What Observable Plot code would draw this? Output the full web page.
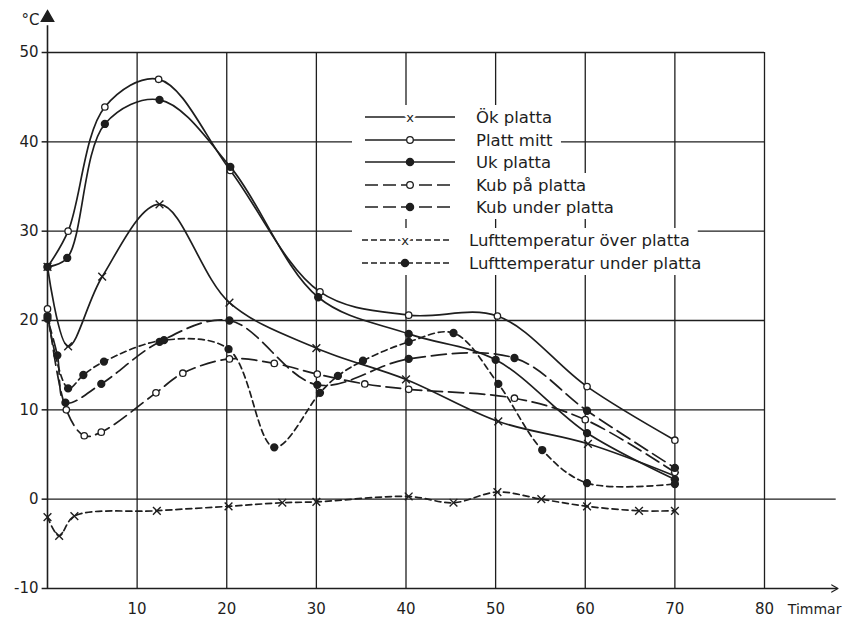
<!DOCTYPE html>
<html><head><meta charset="utf-8">
<script src="https://cdn.jsdelivr.net/npm/d3@7"></script>
<script src="https://cdn.jsdelivr.net/npm/@observablehq/plot@0.6"></script>
<style>
html,body{margin:0;padding:0;background:#fff;}
#chart{position:relative;width:851px;height:623px;}
svg{font-family:"DejaVu Sans",sans-serif;}
</style></head><body><div id="chart"></div>
<script>
// ---- data (hours, °C) ----
const okH = [0, 2.3, 6.1, 12.5, 20.3, 30, 40, 50.3, 60.3, 70];
const okV = [26, 17.1, 24.9, 33, 22, 16.9, 13.4, 8.7, 6.2, 2.6];

const plattH = [0, 2.3, 6.4, 12.4, 20.4, 30.4, 40.3, 50.2, 60.2, 70];
const plattV = [26, 30, 43.9, 47, 36.8, 23.2, 20.6, 20.5, 12.6, 6.6];

const ukH = [0, 2.2, 6.4, 12.5, 20.4, 30.2, 40.3, 50, 60.2, 70];
const ukV = [26, 27, 42, 44.7, 37.2, 22.6, 18.5, 15.6, 7.4, 2.2];

const kubPaH = [0, 2.1, 4.1, 6, 12.1, 15.1, 20.3, 25.3, 30.1, 35.4, 40.3, 52.1, 60, 70];
const kubPaV = [21.3, 10, 7.1, 7.5, 11.9, 14.1, 15.7, 15.2, 14.0, 12.9, 12.3, 11.3, 8.9, 3.0];

const kubUnderH = [0, 1.1, 2, 6, 12.5, 20.3, 30.1, 40.3, 52.1, 60.2, 70];
const kubUnderV = [20.2, 16.1, 10.8, 12.9, 17.6, 20, 12.8, 15.7, 15.8, 9.9, 3.5];

const luftOverH = [0, 1.3, 3, 12.2, 20.2, 26.2, 30, 40.3, 45.3, 50.2, 55.1, 60.2, 66, 70];
const luftOverV = [-2, -4.1, -1.9, -1.3, -0.8, -0.4, -0.3, 0.3, -0.4, 0.8, 0, -0.8, -1.3, -1.3];

const luftUnderH = [0, 2.3, 4, 6.3, 13, 20.2, 25.3, 30.4, 32.4, 35.2, 40.3, 45.3, 50.3, 55.2, 60.2, 70];
const luftUnderV = [20.5, 12.4, 13.9, 15.4, 17.8, 16.8, 5.8, 11.9, 13.8, 15.5, 17.6, 18.6, 12.9, 5.5, 1.8, 1.7];

const xTicks = [10, 20, 30, 40, 50, 60, 70, 80];
const yTicks = [-10, 0, 10, 20, 30, 40, 50];
const xLabel = "Timmar";
const yLabel = "°C";

const ink = "#1e1e1e";
const series = [
  {name: "Ök platta", h: okH, v: okV, dash: null, marker: "x"},
  {name: "Platt mitt", h: plattH, v: plattV, dash: null, marker: "open"},
  {name: "Uk platta", h: ukH, v: ukV, dash: null, marker: "filled"},
  {name: "Kub på platta", h: kubPaH, v: kubPaV, dash: "15,6", marker: "open"},
  {name: "Kub under platta", h: kubUnderH, v: kubUnderV, dash: "15,6", marker: "filled"},
  {name: "Lufttemperatur över platta", h: luftOverH, v: luftOverV, dash: "6,4", marker: "x"},
  {name: "Lufttemperatur under platta", h: luftUnderH, v: luftUnderV, dash: "6,4", marker: "filled"}
];
const rowsOf = s => s.h.map((h, i) => ({series: s.name, h, v: s.v[i]}));

const marks = [
  // grid
  Plot.ruleX(xTicks, {y1: -10, y2: 50, stroke: ink, strokeWidth: 1.3}),
  Plot.ruleY([10, 20, 30, 40, 50], {x1: 0, x2: 80, stroke: ink, strokeWidth: 1.3}),
  Plot.ruleY([0], {x1: 0, x2: 88, stroke: ink, strokeWidth: 1.3}),
  // axes
  Plot.ruleY([-10], {x1: 0, x2: 88, stroke: ink, strokeWidth: 1.5}),
  Plot.ruleX([0], {y1: -10, y2: 53, stroke: ink, strokeWidth: 1.6}),
  Plot.dot([0], {x: 0, y: 53.9, symbol: "triangle", r: 4.5, fill: ink, stroke: ink}),
  Plot.arrow([0], {x1: 85.8, x2: 88.2, y1: -10, y2: -10, stroke: ink, strokeWidth: 1.2, headLength: 9}),
  Plot.ruleY(yTicks, {x1: -0.6, x2: 0, stroke: ink, strokeWidth: 1.5}),
  Plot.text(yTicks, {x: 0, y: d => d, text: d => String(d), dx: -9, textAnchor: "end", fontSize: 15, fill: ink}),
  Plot.text(xTicks, {x: d => d, y: -10, text: d => String(d), dy: 21, fontSize: 15, fill: ink}),
  Plot.text([xLabel], {x: 82.6, y: -10, text: d => d, dy: 21, textAnchor: "start", fontSize: 14, fill: ink}),
  Plot.text([yLabel], {x: 0, y: 53.6, text: d => d, dx: -8, textAnchor: "end", fontSize: 15, fill: ink})
];

for (const s of series) {
  const data = rowsOf(s);
  marks.push(Plot.line(data, {x: "h", y: "v", curve: "catmull-rom", stroke: ink, strokeWidth: 1.7, strokeDasharray: s.dash}));
  if (s.marker === "x") marks.push(Plot.dot(data, {x: "h", y: "v", symbol: "times", r: 3.6, stroke: ink, strokeWidth: 1.4}));
  else if (s.marker === "open") marks.push(Plot.dot(data, {x: "h", y: "v", r: 3.2, fill: "white", stroke: ink, strokeWidth: 1.3}));
  else marks.push(Plot.dot(data, {x: "h", y: "v", r: 3.4, fill: ink, stroke: ink}));
}

const plot = Plot.plot({
  width: 851, height: 623,
  marginLeft: 47, marginRight: 87, marginTop: 52, marginBottom: 35,
  x: {domain: [0, 80], axis: null},
  y: {domain: [-10, 50], axis: null},
  style: {background: "white", overflow: "visible"},
  marks
});
document.getElementById("chart").appendChild(plot);

// ---- in-plot legend (white panel over the grid) ----
const svg = d3.select(plot);
const legendRows = [
  {y: 117, textX: 476},
  {y: 140, textX: 476},
  {y: 162, textX: 476},
  {y: 185, textX: 476},
  {y: 207, textX: 476},
  {y: 240, textX: 469},
  {y: 263, textX: 469}
];
const g = svg.append("g").attr("text-anchor", "start");
const masks = g.append("g");
series.forEach((s, i) => {
  const r = legendRows[i];
  const air = i >= 5;
  const x1 = air ? 362 : 365, x2 = air ? 452 : 455, mx = air ? 405 : 410;
  g.append("line").attr("x1", x1).attr("x2", x2).attr("y1", r.y).attr("y2", r.y)
    .attr("stroke", ink).attr("stroke-width", 1.6).attr("stroke-dasharray", s.dash ? (air ? "6,3" : "13,5") : null);
  if (s.marker === "x") {
    g.append("text").attr("x", mx).attr("y", r.y + 4.5).attr("text-anchor", "middle").attr("font-size", 13).attr("fill", ink)
      .attr("stroke", "white").attr("stroke-width", 5).attr("paint-order", "stroke").text("x");
  } else {
    g.append("circle").attr("cx", mx).attr("cy", r.y).attr("r", s.marker === "open" ? 3.3 : 3.6)
      .attr("fill", s.marker === "open" ? "white" : ink).attr("stroke", ink).attr("stroke-width", 1.3);
  }
  const t = g.append("text").attr("x", r.textX).attr("y", r.y + 5.5).attr("text-anchor", "start")
    .attr("font-size", 16.5).attr("fill", ink).text(s.name);
  const bb = t.node().getBBox();
  masks.append("rect").attr("x", 352).attr("y", r.y - 12)
    .attr("width", bb.x + bb.width + 8 - 352).attr("height", 24).attr("fill", "white");
});
</script></body></html>
